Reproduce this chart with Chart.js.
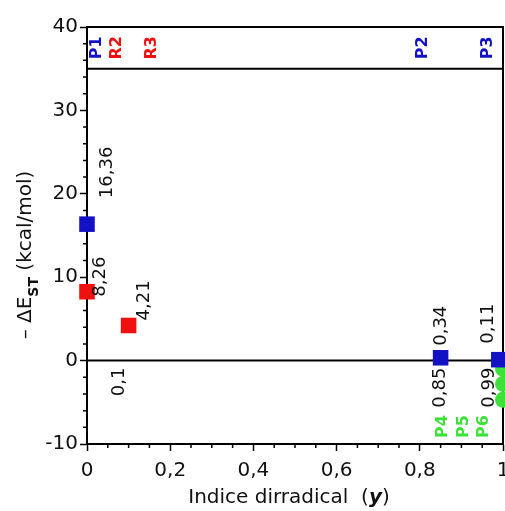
<!DOCTYPE html>
<html lang="es">
<head>
    <meta charset="UTF-8">
    <title>Indice dirradical</title>
    <script src="https://cdn.jsdelivr.net/npm/chart.js"></script>
    <style>
        html, body {
            margin: 0;
            padding: 0;
            background: #fff;
            overflow: hidden;
            width: 505px;
            height: 511px;
        }
        canvas {
            display: block;
        }
    </style>
</head>
<body>
<canvas id="chart" width="530" height="511"></canvas>
<script>
    // axis ticks
    const xTicks = [0, 0.2, 0.4, 0.6, 0.8, 1];
    const yTicks = [-10, 0, 10, 20, 30, 40];

    // series: P (blue), R (red), green P4-P6
    const blueNames = ['P1', 'P2', 'P3'];
    const blueX = [0, 0.85, 0.99];
    const blueY = [16.36, 0.34, 0.11];

    const redNames = ['R2', 'R3'];
    const redX = [0, 0.1];
    const redY = [8.26, 4.21];

    const greenNames = ['P4', 'P5', 'P6'];
    const greenX = [1, 1, 1];
    const greenY = [-1.0, -2.8, -4.7];

    // names written in the top band and at the bottom
    const headerNames = ['P1', 'R2', 'R3', 'P2', 'P3'];
    const headerX = [0.024, 0.072, 0.156, 0.808, 0.964];
    const footerNames = ['P4', 'P5', 'P6'];
    const footerX = [0.855, 0.907, 0.955];

    const bandLine = 35;
    const zeroLine = 0;

    const BLUE = '#1212c4';
    const RED = '#f01010';
    const GREEN = '#3ee03a';
    const FONT = "'DejaVu Sans', sans-serif";

    const fmt = v => String(v).replace('.', ',');

    const toPoints = (xs, ys) => xs.map((x, i) => ({ x: x, y: ys[i] }));

    // frame, reference lines, minor ticks and text labels
    const decorPlugin = {
        id: 'decor',
        beforeDatasetsDraw(chart) {
            const ctx = chart.ctx;
            const a = chart.chartArea;
            const xs = chart.scales.x, ys = chart.scales.y;
            ctx.save();
            ctx.strokeStyle = '#000';
            ctx.lineWidth = 2;
            ctx.beginPath();
            ctx.moveTo(a.left, a.top);
            ctx.lineTo(a.right, a.top);
            ctx.lineTo(a.right, a.bottom);
            [bandLine, zeroLine].forEach(v => {
                const py = ys.getPixelForValue(v);
                ctx.moveTo(a.left, py);
                ctx.lineTo(a.right, py);
            });
            ctx.stroke();

            // minor ticks
            ctx.lineWidth = 1.5;
            ctx.beginPath();
            for (let v = -10; v <= 40; v += 2) {
                if (v % 10 === 0) continue;
                const py = ys.getPixelForValue(v);
                ctx.moveTo(a.left, py);
                ctx.lineTo(a.left - 4, py);
            }
            for (let k = 0; k <= 20; k++) {
                if (k % 4 === 0) continue;
                const px = xs.getPixelForValue(k * 0.05);
                ctx.moveTo(px, a.bottom);
                ctx.lineTo(px, a.bottom + 4);
            }
            ctx.stroke();
            ctx.restore();
        },
        afterDatasetsDraw(chart) {
            const ctx = chart.ctx;
            const xs = chart.scales.x, ys = chart.scales.y;

            function vText(text, x, y, align, font, color) {
                ctx.save();
                ctx.translate(x, y);
                ctx.rotate(-Math.PI / 2);
                ctx.font = font;
                ctx.fillStyle = color;
                ctx.textAlign = align;
                ctx.textBaseline = 'middle';
                ctx.fillText(text, 0, 0);
                ctx.restore();
            }

            // values above/right of the points, x values below the axis
            chart.data.datasets.forEach(ds => {
                if (!ds.valueShift) return;
                ds.data.forEach((p, i) => {
                    const px = xs.getPixelForValue(p.x);
                    const py = ys.getPixelForValue(p.y);
                    const s = ds.valueShift[i];
                    vText(fmt(p.y), px + s[0], py + s[1], 'left', '18px ' + FONT, '#111');
                    if (p.x > 0) {
                        vText(fmt(p.x), px + ds.xShift[i], ys.getPixelForValue(0) + 7,
                            'right', '18px ' + FONT, '#111');
                    }
                });
            });

            const bandMid = ys.getPixelForValue((bandLine + 40) / 2);
            headerNames.forEach((n, i) => {
                vText(n, xs.getPixelForValue(headerX[i]), bandMid, 'center',
                    'bold 16px ' + FONT, n[0] === 'R' ? RED : BLUE);
            });
            footerNames.forEach((n, i) => {
                vText(n, xs.getPixelForValue(footerX[i]), ys.getPixelForValue(-10) - 6, 'left',
                    'bold 16px ' + FONT, GREEN);
            });
        },
        afterDraw(chart) {
            const ctx = chart.ctx;
            ctx.save();
            ctx.fillStyle = '#111';
            ctx.textBaseline = 'alphabetic';

            // x title: Indice dirradical (y)
            const parts = [
                ['Indice dirradical  (', '20px ' + FONT],
                ['y', 'italic bold 20px ' + FONT],
                [')', '20px ' + FONT]
            ];
            let total = 0;
            parts.forEach(p => { ctx.font = p[1]; total += ctx.measureText(p[0]).width; });
            let x = 289 - total / 2;
            parts.forEach(p => {
                ctx.font = p[1];
                ctx.fillText(p[0], x, 503);
                x += ctx.measureText(p[0]).width;
            });

            // y title: - ΔE_ST (kcal/mol)
            ctx.translate(31, 255);
            ctx.rotate(-Math.PI / 2);
            const yparts = [
                ['\u2013 ', '20px ' + FONT, 0],
                ['\u0394E', '20px ' + FONT, 0],
                ['ST', 'bold 14px ' + FONT, 7],
                [' (kcal/mol)', '20px ' + FONT, 0]
            ];
            total = 0;
            yparts.forEach(p => { ctx.font = p[1]; total += ctx.measureText(p[0]).width; });
            x = -total / 2;
            yparts.forEach(p => {
                ctx.font = p[1];
                ctx.fillText(p[0], x, p[2]);
                x += ctx.measureText(p[0]).width;
            });
            ctx.restore();
        }
    };

    new Chart(document.getElementById('chart').getContext('2d'), {
        type: 'scatter',
        data: {
            datasets: [
                {
                    label: 'P',
                    names: blueNames,
                    data: toPoints(blueX, blueY),
                    backgroundColor: BLUE,
                    borderColor: BLUE,
                    pointStyle: 'rect',
                    pointRadius: 11,
                    borderWidth: 0,
                    clip: false,
                    valueShift: [[20, -26], [1, -12], [-11, -16]],
                    xShift: [0, 0, -10]
                },
                {
                    label: 'R',
                    names: redNames,
                    data: toPoints(redX, redY),
                    backgroundColor: RED,
                    borderColor: RED,
                    pointStyle: 'rect',
                    pointRadius: 11,
                    borderWidth: 0,
                    clip: false,
                    valueShift: [[13, 5], [16, -5]],
                    xShift: [0, -9]
                },
                {
                    label: 'P4-P6',
                    names: greenNames,
                    data: toPoints(greenX, greenY),
                    backgroundColor: GREEN,
                    borderColor: GREEN,
                    pointStyle: 'circle',
                    pointRadius: 8,
                    borderWidth: 0,
                    clip: false
                }
            ]
        },
        options: {
            responsive: false,
            animation: false,
            layout: {
                padding: { left: 0, top: 27, right: 27, bottom: 0 }
            },
            plugins: {
                legend: { display: false },
                tooltip: { enabled: false }
            },
            scales: {
                x: {
                    type: 'linear',
                    min: 0,
                    max: 1,
                    afterBuildTicks: s => { s.ticks = xTicks.map(v => ({ value: v })); },
                    afterFit: s => { s.height = 67; },
                    grid: {
                        drawOnChartArea: false,
                        drawTicks: true,
                        tickLength: 7,
                        tickColor: '#000',
                        tickWidth: 1.5
                    },
                    border: { display: true, color: '#000', width: 2 },
                    ticks: {
                        color: '#111',
                        font: { family: FONT, size: 20 },
                        padding: 8,
                        maxRotation: 0,
                        callback: v => fmt(+v.toFixed(1))
                    }
                },
                y: {
                    type: 'linear',
                    min: -10,
                    max: 40,
                    afterBuildTicks: s => { s.ticks = yTicks.map(v => ({ value: v })); },
                    afterFit: s => { s.width = 87; },
                    grid: {
                        drawOnChartArea: false,
                        drawTicks: true,
                        tickLength: 7,
                        tickColor: '#000',
                        tickWidth: 1.5
                    },
                    border: { display: true, color: '#000', width: 2 },
                    ticks: {
                        color: '#111',
                        font: { family: FONT, size: 20 },
                        padding: 2,
                        callback: v => fmt(v)
                    }
                }
            }
        },
        plugins: [decorPlugin]
    });
</script>
</body>
</html>
